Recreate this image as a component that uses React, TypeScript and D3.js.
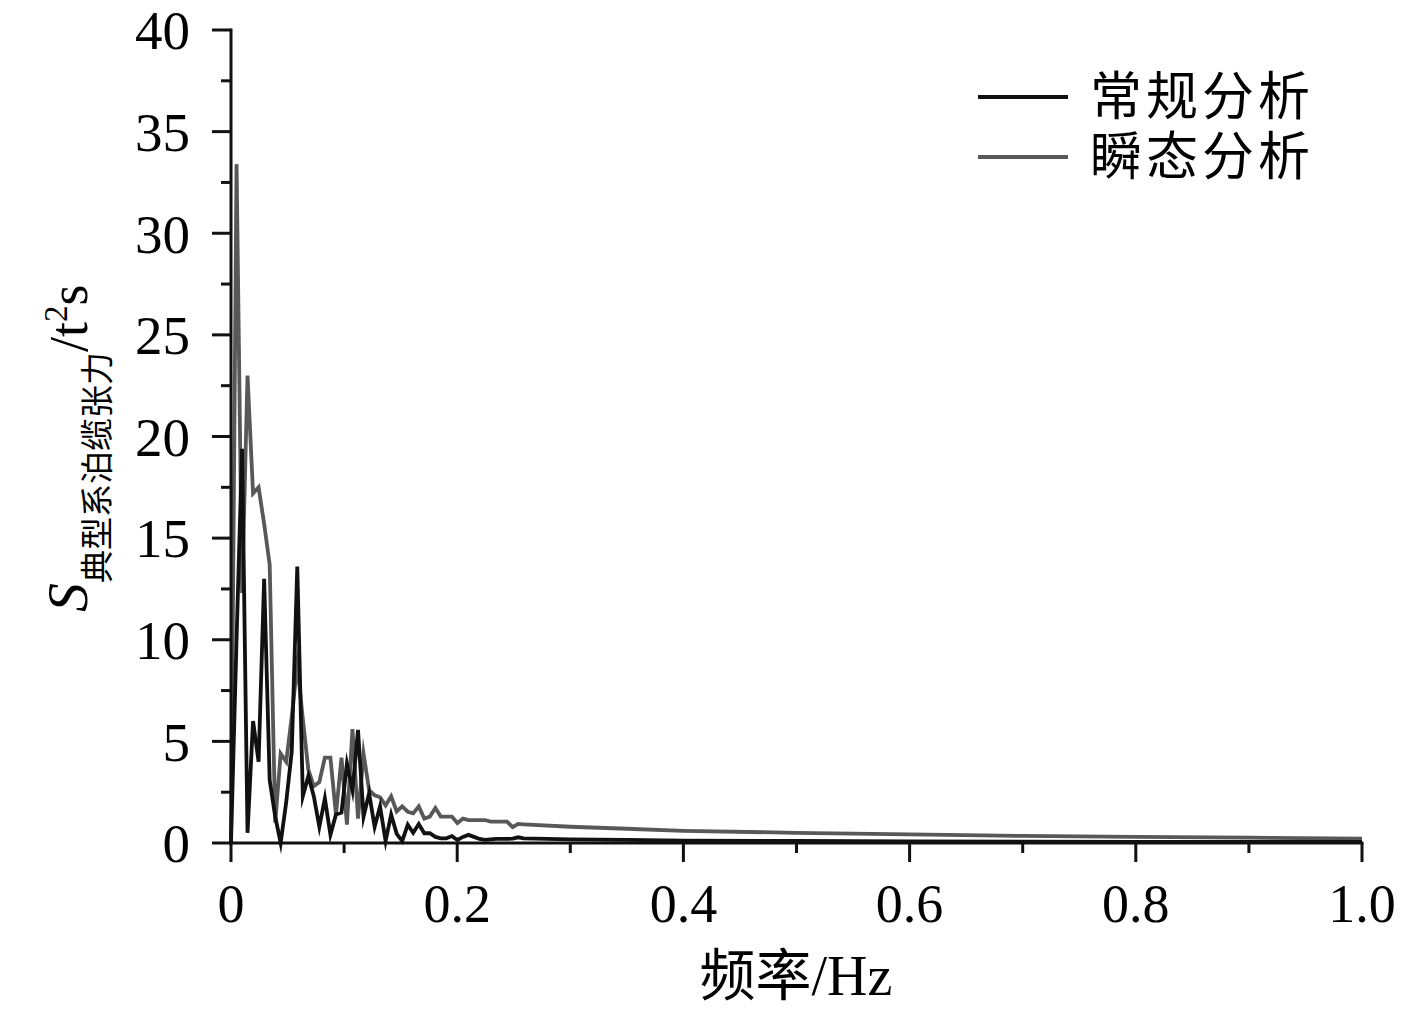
import React from "react";
import * as d3 from "d3";

// Frequency bins (Hz): dense FFT bins up to ~0.26 Hz, then sparse points on the smooth tail
const freqs = [
  0, 0.0049, 0.0098, 0.0146, 0.0195, 0.0244, 0.0293, 0.0342, 0.0391, 0.0439,
  0.0488, 0.0537, 0.0586, 0.0635, 0.0684, 0.0732, 0.0781, 0.083, 0.0879, 0.0928,
  0.0977, 0.1025, 0.1074, 0.1123, 0.1172, 0.1221, 0.127, 0.1318, 0.1367, 0.1416,
  0.1465, 0.1514, 0.1563, 0.1611, 0.166, 0.1709, 0.1758, 0.1807, 0.1855, 0.1904,
  0.1953, 0.2002, 0.2051, 0.21, 0.2148, 0.2197, 0.2246, 0.2295, 0.2344, 0.2393,
  0.2441, 0.249, 0.2539, 0.2588,
  0.3, 0.35, 0.4, 0.5, 0.6, 0.7, 0.8, 0.9, 1.0,
];

// 常规分析 (conventional)
const conventional = [
  0, 10, 19.4, 0.5, 6.0, 4.0, 13.0, 3.1, 1.3, 0,
  2.0, 4.5, 13.6, 2.3, 3.3, 2.3, 0.8, 2.2, 0.4, 1.4,
  1.5, 3.9, 2.6, 5.56, 1.3, 2.45, 0.8, 1.8, 0.1, 1.4,
  0.45, 0.1, 0.9, 0.5, 0.93, 0.48, 0.48, 0.3, 0.23, 0.23,
  0.34, 0.15, 0.3, 0.4, 0.3, 0.2, 0.15, 0.18, 0.2, 0.2,
  0.2, 0.22, 0.28, 0.23,
  0.18, 0.15, 0.12, 0.1, 0.08, 0.07, 0.06, 0.05, 0.05,
];

// 瞬态分析 (transient)
const transient = [
  0, 33.4, 12.3, 23.0, 17.2, 17.5, 15.7, 13.7, 1.0, 4.4,
  4.0, 6.2, 8.8, 6.1, 3.6, 2.8, 3.0, 4.2, 4.2, 1.4,
  4.2, 0.9, 5.6, 1.2, 4.4, 2.6, 2.35, 2.25, 1.85, 2.3,
  1.55, 1.8, 1.54, 1.46, 1.8, 1.2, 1.3, 1.72, 1.3, 1.3,
  1.3, 0.98, 1.2, 1.13, 1.13, 1.13, 1.13, 1.05, 1.05, 1.05,
  1.05, 0.78, 0.94, 0.92,
  0.8, 0.7, 0.6, 0.5, 0.42, 0.35, 0.3, 0.26, 0.22,
];

const xTickValues = [0, 0.2, 0.4, 0.6, 0.8, 1.0];
const xTickLabels = ["0", "0.2", "0.4", "0.6", "0.8", "1.0"];
const xMinorTicks = [0.1, 0.3, 0.5, 0.7, 0.9];
const yTickValues = [0, 5, 10, 15, 20, 25, 30, 35, 40];
const yMinorTicks = [2.5, 7.5, 12.5, 17.5, 22.5, 27.5, 32.5, 37.5];

const seriesNames = ["常规分析", "瞬态分析"];
const seriesColors = ["#111111", "#585858"];

const LATIN = "'Liberation Serif', 'Times New Roman', serif";
const MIXED = "'Liberation Serif', 'Noto Sans CJK SC', serif";
const CJK = "'Noto Sans CJK SC', sans-serif";

export default function App() {
  const W = 1417;
  const H = 1016;
  const x = d3.scaleLinear().domain([0, 1]).range([231, 1362]);
  const y = d3.scaleLinear().domain([0, 40]).range([843, 30]);

  const line = d3
    .line<[number, number]>()
    .x((d) => x(d[0]))
    .y((d) => y(d[1]));

  const convData: [number, number][] = freqs.map((f, i) => [f, conventional[i]]);
  const tranData: [number, number][] = freqs.map((f, i) => [f, transient[i]]);

  const axisColor = "#111";

  return (
    <svg
      width={W}
      height={H}
      viewBox={`0 0 ${W} ${H}`}
      style={{ position: "absolute", left: 0, top: 0, background: "#fff" }}
    >
      <rect x={0} y={0} width={W} height={H} fill="#fff" />

      {/* data lines */}
      <path
        d={line(tranData) || ""}
        fill="none"
        stroke={seriesColors[1]}
        strokeWidth={3.8}
        strokeLinejoin="miter"
        strokeMiterlimit={10}
      />
      <path
        d={line(convData) || ""}
        fill="none"
        stroke={seriesColors[0]}
        strokeWidth={3.8}
        strokeLinejoin="miter"
        strokeMiterlimit={10}
      />

      {/* axes */}
      <line x1={x(0)} x2={x(0)} y1={y(40) - 1.5} y2={y(0) + 1.5} stroke={axisColor} strokeWidth={3} />
      <line x1={x(0) - 1.5} x2={x(1) + 1.5} y1={y(0)} y2={y(0)} stroke={axisColor} strokeWidth={3} />

      {/* y ticks */}
      {yTickValues.map((v) => (
        <g key={"yt" + v}>
          <line x1={x(0) - 19} x2={x(0)} y1={y(v)} y2={y(v)} stroke={axisColor} strokeWidth={3} />
          <text
            x={190}
            y={y(v)}
            dy="0.35em"
            textAnchor="end"
            fontFamily={LATIN}
            fontSize={55}
            fill="#000"
          >
            {v}
          </text>
        </g>
      ))}
      {yMinorTicks.map((v) => (
        <line key={"ym" + v} x1={x(0) - 10} x2={x(0)} y1={y(v)} y2={y(v)} stroke={axisColor} strokeWidth={3} />
      ))}

      {/* x ticks */}
      {xTickValues.map((v, i) => (
        <g key={"xt" + v}>
          <line x1={x(v)} x2={x(v)} y1={y(0)} y2={y(0) + 19} stroke={axisColor} strokeWidth={3} />
          <text
            x={x(v)}
            y={922}
            textAnchor="middle"
            fontFamily={LATIN}
            fontSize={54}
            fill="#000"
          >
            {xTickLabels[i]}
          </text>
        </g>
      ))}
      {xMinorTicks.map((v) => (
        <line key={"xm" + v} x1={x(v)} x2={x(v)} y1={y(0)} y2={y(0) + 10} stroke={axisColor} strokeWidth={3} />
      ))}

      {/* x axis title */}
      <text x={796} y={995} textAnchor="middle" fontFamily={MIXED} fontSize={56} fill="#000">
        频率/Hz
      </text>

      {/* y axis title */}
      <text transform="translate(87, 612) rotate(-90)" fontFamily={LATIN} fill="#000">
        <tspan fontStyle="italic" fontSize={58}>S</tspan>
        <tspan fontFamily={CJK} fontSize={33} dy={22}>典型系泊缆张力</tspan>
        <tspan fontSize={54} dy={-22}>/t</tspan>
        <tspan fontSize={33} dy={-20}>2</tspan>
        <tspan fontSize={54} dy={20}>s</tspan>
      </text>

      {/* legend */}
      {seriesNames.map((name, i) => (
        <g key={name}>
          <line
            x1={978}
            x2={1068}
            y1={97 + i * 60}
            y2={97 + i * 60}
            stroke={seriesColors[i]}
            strokeWidth={4}
          />
          <text
            x={1090}
            y={96 + i * 60}
            dy="0.36em"
            fontFamily={CJK}
            fontSize={52}
            letterSpacing={4}
            fill="#000"
          >
            {name}
          </text>
        </g>
      ))}
    </svg>
  );
}
